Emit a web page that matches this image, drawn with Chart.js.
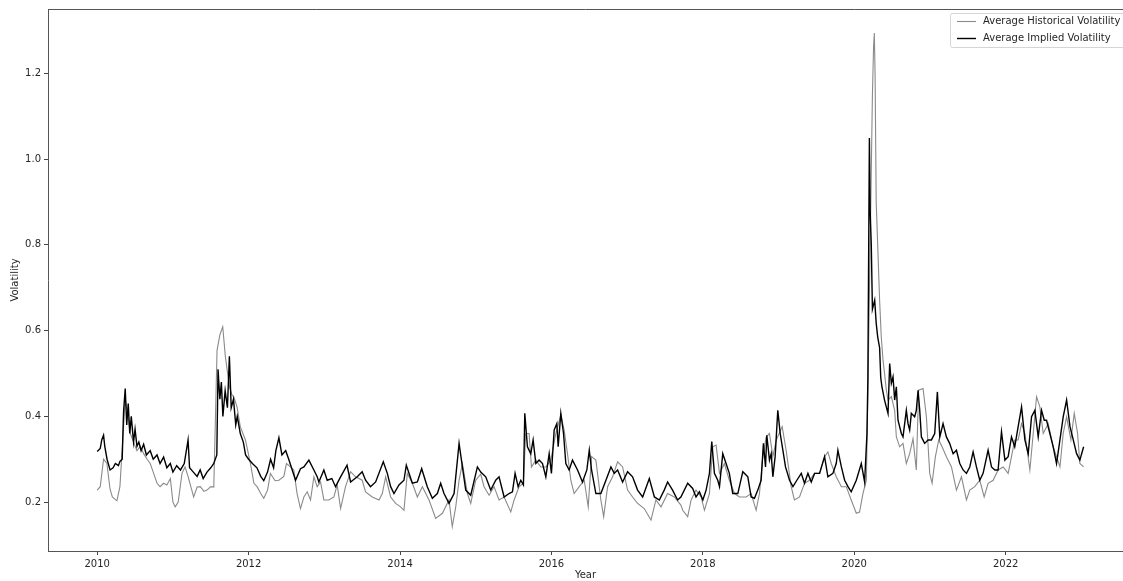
<!DOCTYPE html>
<html>
<head>
<meta charset="utf-8">
<script src="https://cdn.jsdelivr.net/npm/chart.js@4.4.1/dist/chart.umd.min.js"></script>
<style>
  html, body { margin: 0; padding: 0; background: #fff; }
  #wrap { width: 1123px; height: 581px; }
</style>
</head>
<body>
<div id="wrap"><canvas id="volChart" width="1123" height="581"></canvas></div>
<script>
// values, fractional years
const histYears = [
  2010.00, 2010.04, 2010.084, 2010.128, 2010.17, 2010.20, 2010.26, 2010.30, 2010.348, 2010.37, 2010.40, 2010.437,
  2010.48, 2010.525, 2010.57, 2010.613, 2010.66, 2010.70, 2010.74, 2010.79, 2010.83, 2010.877, 2010.92, 2010.966,
  2011.00, 2011.03, 2011.07, 2011.12, 2011.16, 2011.20, 2011.274, 2011.32, 2011.362, 2011.41, 2011.45, 2011.50,
  2011.54, 2011.583, 2011.62, 2011.658, 2011.693, 2011.746, 2011.78, 2011.803, 2011.847, 2011.89, 2011.958,
  2012.024, 2012.07, 2012.112, 2012.16, 2012.20, 2012.25, 2012.288, 2012.35, 2012.40, 2012.465, 2012.50, 2012.553,
  2012.597, 2012.64, 2012.685, 2012.73, 2012.774, 2012.818, 2012.862, 2012.906, 2012.95, 2012.994,
  2013.06, 2013.126, 2013.17, 2013.215, 2013.28, 2013.347, 2013.413, 2013.50, 2013.545, 2013.633, 2013.722,
  2013.766, 2013.81, 2013.876, 2013.942, 2014.008, 2014.052, 2014.096, 2014.163, 2014.229, 2014.295, 2014.383,
  2014.471, 2014.56, 2014.647, 2014.69, 2014.736, 2014.78, 2014.824, 2014.89, 2014.934, 2015.0, 2015.066,
  2015.11, 2015.176, 2015.242, 2015.308, 2015.375, 2015.463, 2015.507, 2015.573, 2015.63, 2015.66, 2015.705,
  2015.736, 2015.794, 2015.86, 2015.926, 2015.992, 2016.058, 2016.124, 2016.168, 2016.212, 2016.256, 2016.30,
  2016.367, 2016.433, 2016.486, 2016.53, 2016.587, 2016.653, 2016.69, 2016.742, 2016.808, 2016.874, 2016.94,
  2017.006, 2017.072, 2017.138, 2017.226, 2017.315, 2017.38, 2017.447, 2017.535, 2017.623, 2017.71,
  2017.734, 2017.80, 2017.845, 2017.91, 2017.977, 2018.021, 2018.087, 2018.131, 2018.175, 2018.22, 2018.285,
  2018.35, 2018.418, 2018.484, 2018.572, 2018.638, 2018.704, 2018.748, 2018.792, 2018.836, 2018.88, 2018.925,
  2018.97, 2019.048, 2019.10, 2019.167, 2019.21, 2019.277, 2019.343, 2019.41, 2019.476, 2019.542, 2019.608,
  2019.652, 2019.696, 2019.762, 2019.83, 2019.895, 2019.96, 2020.027, 2020.07, 2020.115, 2020.16,
  2020.18, 2020.21, 2020.24, 2020.255, 2020.265, 2020.275, 2020.29, 2020.335, 2020.357, 2020.38, 2020.40,
  2020.424, 2020.446, 2020.49, 2020.534, 2020.556, 2020.60, 2020.644, 2020.688, 2020.732, 2020.776, 2020.82,
  2020.85, 2020.909, 2020.953, 2020.997, 2021.028, 2021.072, 2021.116, 2021.16, 2021.217, 2021.284, 2021.35,
  2021.416, 2021.482, 2021.526, 2021.592, 2021.658, 2021.716, 2021.768, 2021.835, 2021.90, 2021.967,
  2022.033, 2022.077, 2022.12, 2022.165, 2022.21, 2022.254, 2022.32, 2022.364, 2022.408, 2022.452, 2022.496,
  2022.562, 2022.628, 2022.672, 2022.717, 2022.76, 2022.805, 2022.862, 2022.906, 2022.95, 2022.98, 2023.03
];
const histValues = [
  0.228, 0.236, 0.300, 0.290, 0.230, 0.212, 0.203, 0.236, 0.376, 0.440, 0.410, 0.360,
  0.340, 0.320, 0.330, 0.313, 0.300, 0.290, 0.270, 0.244, 0.236, 0.244, 0.240, 0.255,
  0.200, 0.189, 0.200, 0.267, 0.282, 0.260, 0.212, 0.235, 0.236, 0.225, 0.228, 0.236,
  0.235, 0.554, 0.590, 0.609, 0.539, 0.470, 0.450, 0.446, 0.422, 0.376, 0.345,
  0.290, 0.244, 0.236, 0.220, 0.209, 0.228, 0.267, 0.250, 0.251, 0.260, 0.290, 0.282,
  0.275, 0.220, 0.185, 0.212, 0.224, 0.205, 0.259, 0.236, 0.247, 0.205,
  0.205, 0.212, 0.240, 0.185, 0.236, 0.271, 0.259, 0.251, 0.224, 0.212, 0.205,
  0.220, 0.259, 0.212, 0.197, 0.189, 0.181, 0.267, 0.244, 0.212, 0.236, 0.205,
  0.162, 0.174, 0.205, 0.143, 0.189, 0.251, 0.290, 0.220, 0.197, 0.251, 0.265,
  0.236, 0.216, 0.236, 0.205, 0.212, 0.177, 0.205, 0.236, 0.244, 0.360, 0.360,
  0.282, 0.298, 0.282, 0.282, 0.298, 0.360, 0.403, 0.368, 0.313, 0.251, 0.220,
  0.236, 0.251, 0.189, 0.306, 0.298, 0.205, 0.166, 0.236, 0.259, 0.294, 0.282,
  0.228, 0.212, 0.197, 0.185, 0.158, 0.205, 0.189, 0.220, 0.212, 0.193,
  0.181, 0.166, 0.205, 0.228, 0.212, 0.181, 0.220, 0.329, 0.333, 0.267, 0.290,
  0.251, 0.220, 0.212, 0.212, 0.220, 0.181, 0.220, 0.306, 0.352, 0.360, 0.306,
  0.345, 0.376, 0.321, 0.236, 0.205, 0.212, 0.244, 0.251, 0.267, 0.267, 0.306,
  0.317, 0.290, 0.259, 0.236, 0.236, 0.205, 0.174, 0.177, 0.220, 0.251,
  0.450, 0.800, 1.150, 1.260, 1.294, 1.200, 0.900, 0.671, 0.585, 0.531, 0.500,
  0.461, 0.438, 0.446, 0.414, 0.352, 0.329, 0.337, 0.290, 0.313, 0.348, 0.275,
  0.461, 0.465, 0.399, 0.267, 0.244, 0.306, 0.345, 0.329, 0.306, 0.282, 0.228,
  0.259, 0.205, 0.228, 0.236, 0.251, 0.212, 0.244, 0.251, 0.275, 0.282,
  0.267, 0.306, 0.345, 0.345, 0.383, 0.360, 0.275, 0.360, 0.446, 0.422, 0.360,
  0.383, 0.329, 0.306, 0.282, 0.360, 0.399, 0.345, 0.407, 0.360, 0.290, 0.282
];

const implYears = [
  2010.00, 2010.04, 2010.06, 2010.084, 2010.10, 2010.13, 2010.17, 2010.21, 2010.24, 2010.28, 2010.30, 2010.33,
  2010.348, 2010.37, 2010.39, 2010.41, 2010.43, 2010.45, 2010.48, 2010.50, 2010.525, 2010.55, 2010.58, 2010.613,
  2010.65, 2010.70, 2010.74, 2010.79, 2010.83, 2010.877, 2010.92, 2010.966,
  2011.00, 2011.05, 2011.10, 2011.15, 2011.20, 2011.22, 2011.27, 2011.32, 2011.36, 2011.40, 2011.45, 2011.50,
  2011.54, 2011.58, 2011.596, 2011.62, 2011.64, 2011.66, 2011.69, 2011.72, 2011.746, 2011.77, 2011.80, 2011.83,
  2011.85, 2011.89, 2011.93, 2011.96,
  2012.00, 2012.05, 2012.11, 2012.16, 2012.20, 2012.25, 2012.29, 2012.33, 2012.36, 2012.40, 2012.44, 2012.49,
  2012.53, 2012.62, 2012.685, 2012.73, 2012.796, 2012.862, 2012.906, 2012.928, 2012.994,
  2013.038, 2013.10, 2013.148, 2013.215, 2013.30, 2013.347, 2013.435, 2013.50, 2013.545, 2013.61, 2013.678,
  2013.779, 2013.832, 2013.876, 2013.92, 2013.986,
  2014.052, 2014.083, 2014.163, 2014.229, 2014.286, 2014.36, 2014.427, 2014.493, 2014.537, 2014.581, 2014.647,
  2014.714, 2014.78, 2014.824, 2014.868, 2014.934,
  2015.022, 2015.066, 2015.132, 2015.198, 2015.264, 2015.308, 2015.375, 2015.44, 2015.485, 2015.52, 2015.56,
  2015.595, 2015.63, 2015.648, 2015.683, 2015.727, 2015.758, 2015.794, 2015.838, 2015.882, 2015.926, 2015.97,
  2016.0, 2016.036, 2016.071, 2016.089, 2016.124, 2016.16, 2016.19, 2016.234, 2016.278, 2016.345, 2016.41,
  2016.468, 2016.50, 2016.53, 2016.587, 2016.653, 2016.72, 2016.786, 2016.83, 2016.874, 2016.94,
  2017.006, 2017.072, 2017.138, 2017.205, 2017.293, 2017.36, 2017.425, 2017.49, 2017.535, 2017.60, 2017.667,
  2017.71, 2017.80, 2017.866, 2017.91, 2017.955,
  2018.0, 2018.043, 2018.087, 2018.118, 2018.153, 2018.197, 2018.22, 2018.263, 2018.307, 2018.35, 2018.395,
  2018.462, 2018.528, 2018.594, 2018.638, 2018.682, 2018.726, 2018.77, 2018.80, 2018.828, 2018.845, 2018.88,
  2018.903, 2018.925, 2018.955, 2018.99,
  2019.022, 2019.057, 2019.092, 2019.145, 2019.19, 2019.242, 2019.30, 2019.343, 2019.388, 2019.432, 2019.476,
  2019.542, 2019.608, 2019.652, 2019.718, 2019.762, 2019.784, 2019.83, 2019.873, 2019.917, 2019.96,
  2020.027, 2020.093, 2020.137, 2020.168, 2020.18, 2020.20, 2020.21, 2020.225, 2020.24, 2020.27, 2020.29,
  2020.31, 2020.335, 2020.35, 2020.366, 2020.40, 2020.446, 2020.468, 2020.49, 2020.512, 2020.534, 2020.556,
  2020.578, 2020.622, 2020.644, 2020.688, 2020.71, 2020.732, 2020.754, 2020.798, 2020.82, 2020.843, 2020.865,
  2020.887, 2020.93, 2020.975,
  2021.019, 2021.063, 2021.098, 2021.13, 2021.173, 2021.217, 2021.26, 2021.306, 2021.35, 2021.394, 2021.438,
  2021.482, 2021.526, 2021.57, 2021.614, 2021.658, 2021.702, 2021.768, 2021.813, 2021.857, 2021.90, 2021.945,
  2021.99, 2022.033, 2022.077, 2022.12, 2022.165, 2022.21, 2022.254, 2022.298, 2022.342, 2022.386, 2022.43,
  2022.474, 2022.51, 2022.54, 2022.584, 2022.628, 2022.672, 2022.717, 2022.76, 2022.805, 2022.85, 2022.893,
  2022.937, 2022.98, 2023.03
];
const implValues = [
  0.318, 0.325, 0.345, 0.356, 0.330, 0.300, 0.275, 0.280, 0.290, 0.285, 0.295, 0.300,
  0.410, 0.465, 0.380, 0.430, 0.360, 0.400, 0.340, 0.370, 0.330, 0.340, 0.320, 0.335,
  0.310, 0.320, 0.300, 0.310, 0.290, 0.305, 0.280, 0.290,
  0.270, 0.285, 0.275, 0.290, 0.345, 0.280, 0.270, 0.260, 0.275, 0.255, 0.270, 0.280,
  0.290, 0.310, 0.510, 0.440, 0.480, 0.400, 0.460, 0.420, 0.540, 0.420, 0.440, 0.380,
  0.400, 0.360, 0.340, 0.310,
  0.300, 0.290, 0.280, 0.260, 0.250, 0.270, 0.300, 0.280, 0.320, 0.350, 0.310, 0.320,
  0.300, 0.251, 0.278, 0.282, 0.298, 0.275, 0.259, 0.247, 0.275,
  0.251, 0.255, 0.236, 0.259, 0.286, 0.247, 0.259, 0.271, 0.251, 0.236, 0.247,
  0.294, 0.267, 0.236, 0.220, 0.240,
  0.251, 0.286, 0.244, 0.247, 0.278, 0.236, 0.209, 0.220, 0.244, 0.220, 0.197,
  0.220, 0.337, 0.282, 0.228, 0.216,
  0.282, 0.270, 0.259, 0.228, 0.251, 0.259, 0.212, 0.220, 0.224, 0.267, 0.236,
  0.251, 0.240, 0.407, 0.329, 0.313, 0.345, 0.290, 0.298, 0.290, 0.259, 0.313,
  0.267, 0.368, 0.383, 0.329, 0.407, 0.360, 0.290, 0.275, 0.298, 0.275, 0.247,
  0.275, 0.321, 0.275, 0.220, 0.220, 0.251, 0.282, 0.267, 0.275, 0.247,
  0.271, 0.259, 0.228, 0.212, 0.255, 0.212, 0.205, 0.228, 0.247, 0.228, 0.205,
  0.212, 0.244, 0.232, 0.212, 0.224,
  0.205, 0.228, 0.267, 0.341, 0.267, 0.251, 0.236, 0.313, 0.290, 0.267, 0.220,
  0.220, 0.271, 0.259, 0.212, 0.209, 0.228, 0.251, 0.337, 0.282, 0.356, 0.298,
  0.313, 0.259, 0.306, 0.414,
  0.360, 0.321, 0.282, 0.251, 0.236, 0.251, 0.267, 0.244, 0.267, 0.247, 0.267,
  0.267, 0.306, 0.259, 0.267, 0.290, 0.321, 0.282, 0.251, 0.236, 0.224,
  0.251, 0.290, 0.247, 0.360, 0.488, 1.049, 0.880, 0.800, 0.650, 0.671, 0.617,
  0.585, 0.560, 0.490, 0.469, 0.438, 0.407, 0.523, 0.477, 0.492, 0.438, 0.469,
  0.391, 0.360, 0.352, 0.414, 0.383, 0.368, 0.407, 0.399, 0.414, 0.461, 0.414,
  0.352, 0.337, 0.345,
  0.345, 0.360, 0.457, 0.352, 0.383, 0.352, 0.337, 0.313, 0.321, 0.290, 0.275,
  0.267, 0.282, 0.317, 0.282, 0.251, 0.267, 0.321, 0.282, 0.275, 0.275, 0.364,
  0.298, 0.306, 0.352, 0.329, 0.376, 0.422, 0.345, 0.313, 0.399, 0.414, 0.352,
  0.414, 0.391, 0.391, 0.360, 0.329, 0.290, 0.345, 0.399, 0.438, 0.376, 0.345,
  0.313, 0.298, 0.329
];

const seriesLabels = ["Average Historical Volatility", "Average Implied Volatility"];
const xTickValues = [2010, 2012, 2014, 2016, 2018, 2020, 2022];
const yTickValues = [0.2, 0.4, 0.6, 0.8, 1.0, 1.2];

const FONT = { family: "'DejaVu Sans', sans-serif", size: 10 };
const TEXT = "#262626";

function toPoints(xs, ys) {
  return xs.map((x, i) => ({ x: x, y: ys[i] }));
}

// top spine + matplotlib-style legend box in the upper right corner
const frameAndLegend = {
  id: "frameAndLegend",
  afterDraw(chart) {
    const { ctx, chartArea } = chart;
    ctx.save();
    ctx.strokeStyle = "#555";
    ctx.lineWidth = 1;
    ctx.beginPath();
    ctx.moveTo(chartArea.left, chartArea.top + 0.5);
    ctx.lineTo(chartArea.right, chartArea.top + 0.5);
    ctx.stroke();

    const bx = 950.5, by = 13.5, bw = 185, bh = 34;
    ctx.fillStyle = "rgba(255,255,255,0.8)";
    ctx.strokeStyle = "#d5d5d5";
    ctx.beginPath();
    ctx.roundRect(bx, by, bw, bh, 2);
    ctx.fill();
    ctx.stroke();

    ctx.font = "10px 'DejaVu Sans', sans-serif";
    ctx.textBaseline = "middle";
    chart.data.datasets.forEach((ds, i) => {
      const y = 21.5 + i * 17;
      ctx.strokeStyle = ds.borderColor;
      ctx.lineWidth = ds.borderWidth;
      ctx.beginPath();
      ctx.moveTo(957, y);
      ctx.lineTo(976, y);
      ctx.stroke();
      ctx.fillStyle = TEXT;
      ctx.fillText(ds.label, 983, y);
    });
    ctx.restore();
  }
};

new Chart(document.getElementById("volChart"), {
  type: "line",
  data: {
    datasets: [
      { label: seriesLabels[0], data: toPoints(histYears, histValues), borderColor: "#8a8a8a", borderWidth: 1.1, order: 2 },
      { label: seriesLabels[1], data: toPoints(implYears, implValues), borderColor: "#000000", borderWidth: 1.4, order: 1 }
    ]
  },
  options: {
    responsive: false,
    animation: false,
    devicePixelRatio: 1,
    layout: { padding: { top: 9, right: 0, left: 0, bottom: 0 } },
    elements: { point: { radius: 0 }, line: { tension: 0 } },
    plugins: { legend: { display: false }, tooltip: { enabled: false } },
    scales: {
      x: {
        type: "linear",
        min: 2009.35,
        max: 2023.55,
        afterBuildTicks: (s) => { s.ticks = xTickValues.map((v) => ({ value: v })); },
        afterFit: (s) => { s.height = 30; },
        ticks: { callback: (v) => String(v), font: FONT, color: TEXT, padding: 3, maxRotation: 0, autoSkip: false },
        grid: { drawOnChartArea: false, drawTicks: true, tickLength: 4, tickColor: "#444" },
        border: { display: true, color: "#555", width: 1 },
        title: { display: true, text: "Year", font: FONT, color: TEXT, padding: { top: 0, bottom: 0 } }
      },
      y: {
        type: "linear",
        min: 0.086,
        max: 1.35,
        afterBuildTicks: (s) => { s.ticks = yTickValues.map((v) => ({ value: v })); },
        afterFit: (s) => { s.width = 48; },
        ticks: { callback: (v) => v.toFixed(1), font: FONT, color: TEXT, padding: 3, autoSkip: false },
        grid: { drawOnChartArea: false, drawTicks: true, tickLength: 4, tickColor: "#444" },
        border: { display: true, color: "#555", width: 1 },
        title: { display: true, text: "Volatility", font: FONT, color: TEXT, padding: { top: 9, bottom: 0 } }
      }
    }
  },
  plugins: [frameAndLegend]
});
</script>
</body>
</html>
